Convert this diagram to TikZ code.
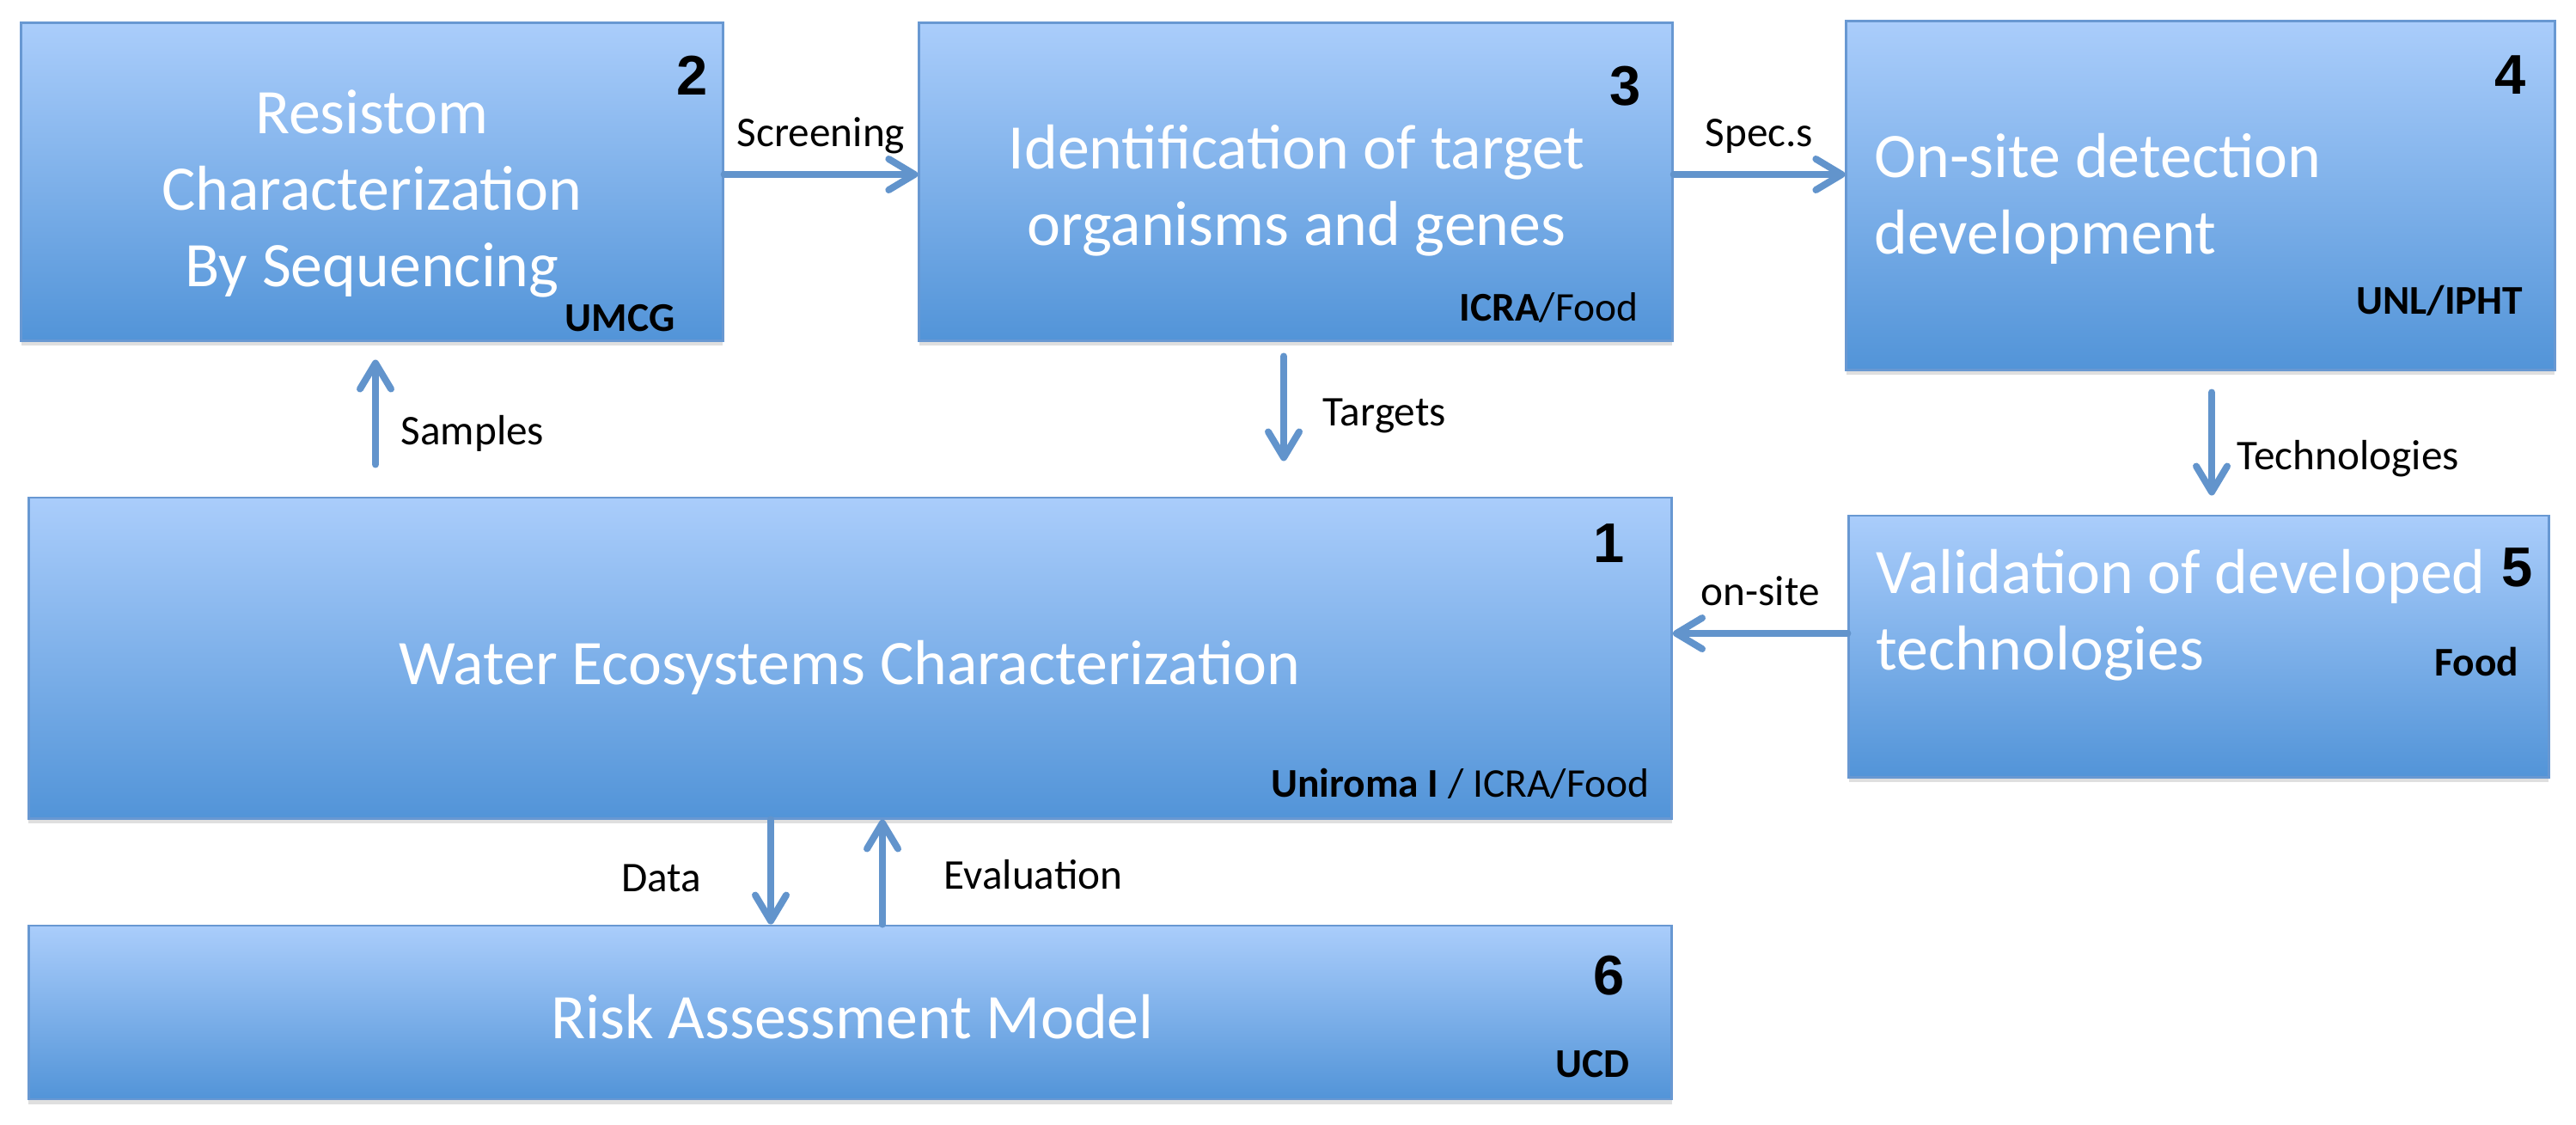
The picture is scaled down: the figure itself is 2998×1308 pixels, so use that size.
\documentclass[tikz,border=0pt]{standalone}
\usepackage{fontspec}
\setmainfont{Carlito}
\newfontfamily\numfont{Liberation Sans}
\usetikzlibrary{arrows.meta, positioning, shadows, calc}
\definecolor{boxtop}{RGB}{170,205,251}
\definecolor{boxbot}{RGB}{82,148,216}
\definecolor{boxline}{RGB}{104,152,210}
\definecolor{arrowblue}{RGB}{98,148,204}

\begin{document}
\begin{tikzpicture}[x=0.01cm, y=-0.01cm,
    box/.style={rectangle, draw=boxline, line width=0.8pt, top color=boxtop, bottom color=boxbot,
        drop shadow={shadow xshift=0cm, shadow yshift=-0.06cm, opacity=0.25}},
    title/.style={text=white, font=\fontsize{21}{25.3}\selectfont, inner sep=0pt},
    num/.style={font=\numfont\bfseries\fontsize{18.5}{20}\selectfont, inner sep=0pt},
    org/.style={font=\fontsize{13.5}{15}\selectfont, inner sep=0pt},
    lbl/.style={text=black, font=\fontsize{14}{16}\selectfont, text height=0.7em, text depth=0.25em},
    arrow/.style={-{Straight Barb[length=0.3cm, width=0.36cm, round]}, line width=0.08cm, draw=arrowblue, line cap=round}
]
    \useasboundingbox (0,0) rectangle (2998,1308);

    % Work packages
    \node[box, minimum width=8.16cm, minimum height=3.69cm] (resistom) at (433,211.5) {};
    \node[box, minimum width=8.76cm, minimum height=3.69cm] (ident) at (1508,211.5) {};
    \node[box, minimum width=8.24cm, minimum height=4.05cm] (onsite) at (2561,227.5) {};
    \node[box, minimum width=8.14cm, minimum height=3.04cm] (valid) at (2559,752) {};
    \node[box, minimum width=19.11cm, minimum height=3.73cm] (water) at (989.5,765.5) {};
    \node[box, minimum width=19.11cm, minimum height=2.02cm] (risk) at (989.5,1178) {};

    % Titles
    \node[title, align=center] (resistomtxt) at (433,225) {Resistom\\Characterization\\By Sequencing};
    \node[title, align=center] (identtxt) at (1509,222) {Identification of target\\organisms and genes};
    \node[title, align=left, anchor=west] (onsitetxt) at (2181,231) {On-site detection\\development};
    \node[title, align=left, anchor=west] (validtxt) at (2183,716) {Validation of developed\\technologies};
    \node[title, anchor=base] (watertxt) at (989,796) {Water Ecosystems Characterization};
    \node[title, anchor=base] (risktxt) at (992,1208) {Risk Assessment Model};

    % Numbers
    \node[num] (n1) at (1873,632) {1};
    \node[num] (n2) at (806,88) {2};
    \node[num] (n3) at (1892,100) {3};
    \node[num] (n4) at (2922,87) {4};
    \node[num] (n5) at (2930,660) {5};
    \node[num] (n6) at (1873,1135) {6};

    % Partners
    \node[org, anchor=base east] (umcg) at (786,385) {\textbf{UMCG}};
    \node[org, anchor=base east] (icra) at (1907,373) {\textbf{ICRA}/Food};
    \node[org, anchor=base east] (unl) at (2937,365) {\textbf{UNL/IPHT}};
    \node[org, anchor=base east] (food) at (2932,786) {\textbf{Food}};
    \node[org, anchor=base east] (uniroma) at (1920,927) {\textbf{Uniroma I} / ICRA/Food};
    \node[org, anchor=base east] (ucd) at (1897,1253) {\textbf{UCD}};

    % Connections
    \draw[arrow] (resistom.east |- 0,203) -- (ident.west |- 0,203) node[midway, above=0.08cm, lbl] {Screening};
    \draw[arrow] (ident.east |- 0,203) -- (onsite.west |- 0,203) node[midway, above=0.08cm, lbl] {Spec.s};
    \draw[arrow, shorten <=0.37cm, shorten >=0.21cm] (water.north -| 437,0) -- (resistom.south -| 437,0)
        node[pos=.38, right=0.14cm, lbl] {Samples};
    \draw[arrow, shorten <=0.17cm, shorten >=0.41cm] (ident.south -| 1494,0) -- (water.north -| 1494,0)
        node[pos=.5, right=0.3cm, lbl] {Targets};
    \draw[arrow, shorten <=0.25cm, shorten >=0.22cm] (onsite.south -| 2574,0) -- (valid.north -| 2574,0)
        node[pos=.64, right=0.14cm, lbl] {Technologies};
    \draw[arrow] (valid.west |- 0,737) -- (water.east |- 0,737) node[midway, above=0.08cm, lbl] {on-site};
    \draw[arrow] (water.south -| 897,0) -- (risk.north -| 897,0) node[pos=.62, left=0.65cm, lbl] {Data};
    \draw[arrow] (risk.north -| 1027,0) -- (water.south -| 1027,0) node[pos=.4, right=0.56cm, lbl] {Evaluation};
\end{tikzpicture}
\end{document}
